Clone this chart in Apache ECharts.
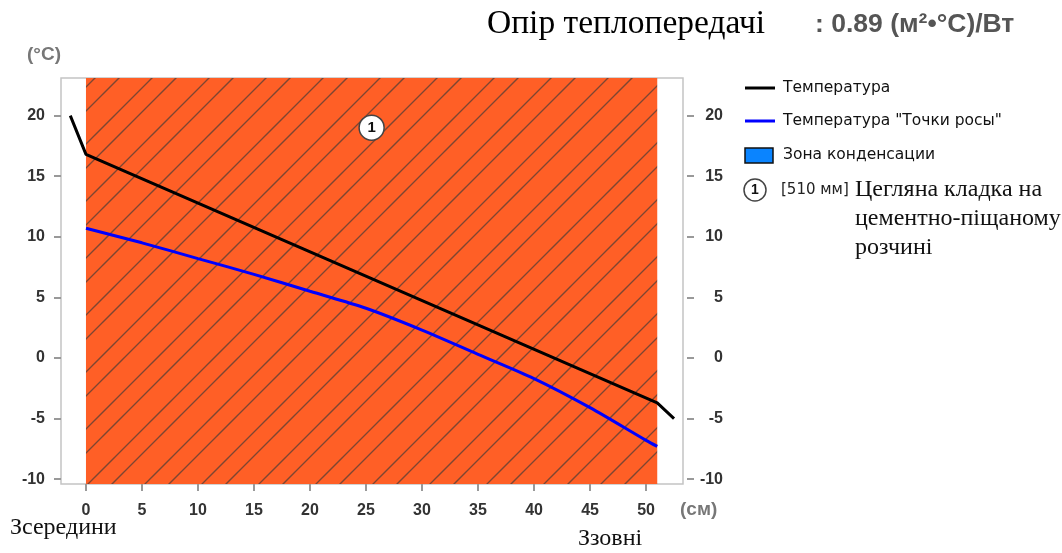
<!DOCTYPE html>
<html>
<head>
<meta charset="utf-8">
<script src="https://cdn.jsdelivr.net/npm/echarts@6/dist/echarts.min.js"></script>
<style>
  html, body { margin: 0; padding: 0; background: #fff; }
  #chart { width: 1062px; height: 553px; }
</style>
</head>
<body>
<div id="chart"></div>
<script>
// Wall cross-section: distance from inner surface (cm)
const xTicks = [0, 5, 10, 15, 20, 25, 30, 35, 40, 45, 50];
const yTicks = [-10, -5, 0, 5, 10, 15, 20];

// Temperature profile: room air, inner surface, outer surface, outside air
const tempX = [-1.4, 0, 51, 52.5];
const tempY = [20, 16.8, -3.7, -5.0];

// Dew point temperature through the layer
const dewX = [0, 5, 10, 15, 20, 25, 30, 35, 40, 45, 50, 51];
const dewY = [10.7, 9.5, 8.2, 6.9, 5.5, 4.1, 2.3, 0.3, -1.7, -4.1, -6.8, -7.3];

// Layers: [start cm, end cm, number]
const layers = [[0, 51, 1]];
const layerNames = ['Цегляна кладка на\nцементно-піщаному\nрозчині'];
const layerWidths = ['[510 мм]'];

// Legend entries
const legendNames = ['Температура', 'Температура "Точки росы"', 'Зона конденсации'];
const legendColors = ['#000000', '#0000ff', '#0a84ff'];

const xRange = [-2.23, 53.3];
const yRange = [-10.4, 23.1];

// Brick hatching tile
function hatchTile() {
  const P = 57;
  const c = document.createElement('canvas');
  c.width = P; c.height = P;
  const g = c.getContext('2d');
  g.fillStyle = '#ff5f26';
  g.fillRect(0, 0, P, P);
  g.strokeStyle = 'rgba(70,60,55,0.7)';
  g.lineWidth = 1.3;
  [2, 26].forEach(function (off) {
    [off - P, off, off + P].forEach(function (k) {
      g.beginPath();
      g.moveTo(k + P, -P);
      g.lineTo(k - 2 * P, 2 * P);
      g.stroke();
    });
  });
  return c;
}
const hatch = { image: hatchTile(), repeat: 'repeat' };

const serif = '"Liberation Serif", "Times New Roman", serif';
const sans = '"Liberation Sans", Arial, sans-serif';
const legendFont = '"DejaVu Sans", Verdana, sans-serif';

const chart = echarts.init(document.getElementById('chart'), null, { renderer: 'canvas' });

// Legend drawn as graphic items
const legendGraphics = [];
const rowY = [88, 121, 155];
legendNames.forEach(function (name, i) {
  if (i < 2) {
    legendGraphics.push({ type: 'line', shape: { x1: 745, y1: rowY[i], x2: 775, y2: rowY[i] },
      style: { stroke: legendColors[i], lineWidth: 3 } });
  } else {
    legendGraphics.push({ type: 'rect', shape: { x: 745, y: rowY[i] - 7, width: 28, height: 15 },
      style: { fill: legendColors[i], stroke: '#111', lineWidth: 1.5 } });
  }
  legendGraphics.push({ type: 'text', x: 783, y: rowY[i],
    style: { text: name, font: '15.5px ' + legendFont, fill: '#111', verticalAlign: 'middle' } });
});

const tickStyle = { color: '#999', width: 2 };
const labelStyle = { color: '#333', fontFamily: sans, fontWeight: 'bold', fontSize: 16 };

const option = {
  animation: false,
  backgroundColor: '#fff',
  grid: {
    left: 61, right: 379, top: 78, bottom: 69,
    show: true, borderColor: '#c4c4c4', borderWidth: 1.5, backgroundColor: '#fff'
  },
  xAxis: {
    type: 'value', min: xRange[0], max: xRange[1], position: 'bottom',
    splitLine: { show: false },
    axisLine: { show: false, onZero: false },
    axisTick: { show: true, length: 7, customValues: xTicks, lineStyle: tickStyle },
    axisLabel: Object.assign({ customValues: xTicks, margin: 19 }, labelStyle)
  },
  yAxis: [{
    type: 'value', min: yRange[0], max: yRange[1], position: 'left',
    splitLine: { show: false },
    axisLine: { show: false, onZero: false },
    axisTick: { show: true, length: 7, customValues: yTicks, lineStyle: tickStyle },
    axisLabel: Object.assign({ customValues: yTicks, margin: 16 }, labelStyle)
  }, {
    type: 'value', min: yRange[0], max: yRange[1], position: 'right', offset: 4,
    splitLine: { show: false },
    axisLine: { show: false, onZero: false },
    axisTick: { show: true, length: 7, customValues: yTicks, lineStyle: tickStyle },
    axisLabel: Object.assign({ customValues: yTicks, margin: 36, align: 'right' }, labelStyle)
  }],
  series: [
    {
      name: 'layers', type: 'line', data: [], silent: true,
      markArea: {
        silent: true,
        itemStyle: { color: hatch },
        data: layers.map(function (l) { return [{ xAxis: l[0] }, { xAxis: l[1] }]; })
      }
    },
    {
      name: legendNames[1], type: 'line', symbol: 'none', smooth: 0.3,
      lineStyle: { color: legendColors[1], width: 3 }, itemStyle: { color: legendColors[1] },
      data: dewX.map(function (x, i) { return [x, dewY[i]]; }), z: 3
    },
    {
      name: legendNames[0], type: 'line', symbol: 'none',
      lineStyle: { color: legendColors[0], width: 3 }, itemStyle: { color: legendColors[0] },
      data: tempX.map(function (x, i) { return [x, tempY[i]]; }), z: 4
    },
    {
      name: 'layer-numbers', type: 'scatter', symbol: 'circle', symbolSize: 25, z: 5,
      itemStyle: { color: '#fff', opacity: 1, borderColor: '#444', borderWidth: 1.5 },
      label: { show: true, position: 'inside', color: '#111', fontFamily: sans, fontWeight: 'bold', fontSize: 15,
        formatter: function (p) { return String(p.value[2]); } },
      data: layers.map(function (l) { return [(l[0] + l[1]) / 2, 19, l[2]]; })
    }
  ],
  graphic: [
    { type: 'text', left: 487, top: 7, style: { text: 'Опір теплопередачі', font: '33.5px ' + serif, fill: '#000' } },
    { type: 'text', left: 815, top: 11, style: { text: ': 0.89 (м²•°C)/Вт', font: 'bold 26.5px ' + sans, fill: '#555' } },
    { type: 'text', left: 27, top: 45, style: { text: '(°C)', font: 'bold 19px ' + sans, fill: '#777' } },
    { type: 'text', left: 680, top: 500, style: { text: '(см)', font: 'bold 19px ' + sans, fill: '#777' } },
    { type: 'text', left: 10, top: 516, style: { text: 'Зсередини', font: '24px ' + serif, fill: '#111' } },
    { type: 'text', left: 578, top: 527, style: { text: 'Ззовні', font: '24px ' + serif, fill: '#111' } },
    { type: 'circle', shape: { cx: 755, cy: 190, r: 11 }, style: { fill: '#fff', stroke: '#444', lineWidth: 1.5 } },
    { type: 'text', x: 755, y: 190, style: { text: String(layers[0][2]), font: 'bold 14px ' + sans, fill: '#111', align: 'center', verticalAlign: 'middle' } },
    { type: 'text', left: 781, top: 183, style: { text: layerWidths[0], font: '15px ' + legendFont, fill: '#222' } },
    { type: 'text', left: 855, top: 175, style: { text: layerNames[0], font: '24px ' + serif, lineHeight: 29, fill: '#111' } }
  ].concat(legendGraphics)
};

chart.setOption(option);
</script>
</body>
</html>
